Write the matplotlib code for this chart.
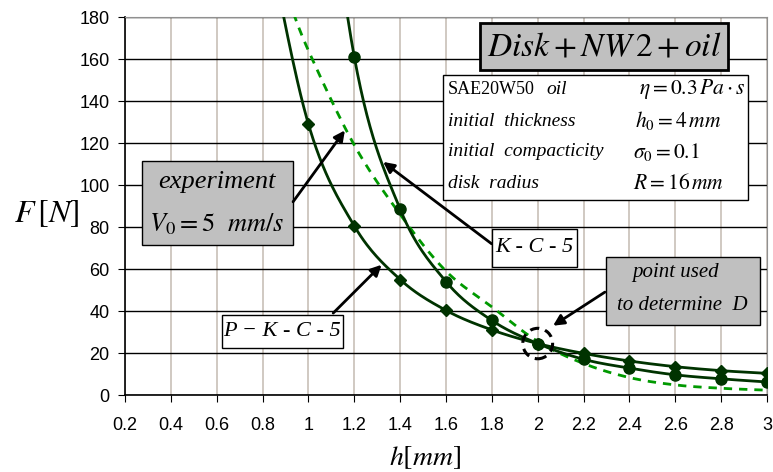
import numpy as np
import matplotlib.pyplot as plt
from matplotlib.patches import Rectangle, Ellipse

plt.rcParams['mathtext.fontset'] = 'stix'

# data
h_kc = [1.0, 1.2, 1.4, 1.6, 1.8, 2.0, 2.2, 2.4, 2.6, 2.8, 3.0]
F_kc = [326, 161, 88.5, 54, 35.5, 24.5, 17.0, 12.8, 9.6, 7.7, 6.2]

h_pkc = [0.8, 1.0, 1.2, 1.4, 1.6, 1.8, 2.0, 2.2, 2.4, 2.6, 2.8, 3.0]
F_pkc = [229, 129, 80.5, 55, 40.3, 31, 24.5, 19.8, 16.2, 13.5, 11.6, 10.3]

h_exp = [0.9, 1.0, 1.2, 1.4, 1.6, 1.8, 2.0, 2.2, 2.4, 2.6, 2.8, 3.0]
F_exp = [192, 164, 119, 86, 59, 42, 25.5, 15, 8.3, 4.8, 3.2, 2.3]

xticks = [0.2, 0.4, 0.6, 0.8, 1, 1.2, 1.4, 1.6, 1.8, 2, 2.2, 2.4, 2.6, 2.8, 3]
xtick_labels = ['0.2', '0.4', '0.6', '0.8', '1', '1.2', '1.4', '1.6', '1.8',
                '2', '2.2', '2.4', '2.6', '2.8', '3']
yticks = list(range(0, 181, 20))


def smooth(x, y, n=30):
    # catmull-rom style smoothing, like the spreadsheet "smoothed line"
    p = np.column_stack([x, y]).astype(float)
    p = np.vstack([2 * p[0] - p[1], p, 2 * p[-1] - p[-2]])
    t = np.linspace(0, 1, n)[:, None]
    out = []
    for i in range(1, len(p) - 2):
        p0, p1, p2, p3 = p[i - 1], p[i], p[i + 1], p[i + 2]
        seg = 0.5 * ((2 * p1) + (-p0 + p2) * t + (2 * p0 - 5 * p1 + 4 * p2 - p3) * t ** 2
                     + (-p0 + 3 * p1 - 3 * p2 + p3) * t ** 3)
        out.append(seg)
    out = np.vstack(out)
    return out[:, 0], out[:, 1]


fig = plt.figure(figsize=(7.73, 4.72), dpi=100)
ax = fig.add_axes([125 / 773, 77 / 472, 642 / 773, 378 / 472])

dark = '#003300'
sx, sy = smooth(h_exp, F_exp)
ax.plot(sx, sy, color='#009900', lw=2, dashes=(3, 2.5), zorder=3)
sx, sy = smooth(h_pkc, F_pkc)
ax.plot(sx, sy, color=dark, lw=2, zorder=4)
ax.plot(h_pkc, F_pkc, 'D', color=dark, ms=6, zorder=5)
sx, sy = smooth(h_kc, F_kc)
ax.plot(sx, sy, color=dark, lw=2, zorder=4)
ax.plot(h_kc, F_kc, 'o', color=dark, ms=8, zorder=5)

ax.set_xlim(0.2, 3.0)
ax.set_ylim(0, 180)
ax.set_xticks(xticks)
ax.set_xticklabels(xtick_labels)
ax.set_yticks(yticks)
for lab in ax.get_xticklabels() + ax.get_yticklabels():
    lab.set_fontfamily('Liberation Sans')
    lab.set_fontsize(13)
ax.tick_params(direction='out', length=5, color='black')
ax.tick_params(axis='x', pad=11)
ax.tick_params(axis='y', pad=6)

ax.grid(axis='x', color='#c8c0b8', lw=1.2, zorder=0)
ax.grid(axis='y', color='black', lw=1, zorder=0)
ax.set_axisbelow(True)
ax.spines['top'].set_color('#909090')
ax.spines['right'].set_color('#909090')
ax.spines['left'].set_linewidth(1.2)
ax.spines['bottom'].set_linewidth(1.2)

fig.text(47 / 773, 1 - 214 / 472, r'$F\,[N]$', fontsize=23, ha='center', va='center')
fig.text(425 / 773, 1 - 457 / 472, r'$h[mm]$', fontsize=20, ha='center', va='center')


def px(x, y):
    return ((x - 125) / 642, (395 - y) / 378)


def box(x0, y0, x1, y1, fc, lw=1.0):
    a = px(x0, y1)
    b = px(x1, y0)
    ax.add_patch(Rectangle(a, b[0] - a[0], b[1] - a[1], transform=ax.transAxes,
                           facecolor=fc, edgecolor='black', lw=lw, zorder=6, clip_on=False))


def txt(x, y, s, size, ha='center', **kw):
    ax.text(*px(x, y), s, transform=ax.transAxes, fontsize=size, ha=ha, va='center',
            zorder=7, **kw)


serif_it = dict(fontfamily='Liberation Serif', style='italic')

# title box
box(480, 23, 728, 70, '#c0c0c0', lw=2)
txt(604, 46, r'$Disk + NW\,2 + oil$', 24)

# parameter box
box(443, 75, 748, 200, 'white')
txt(448, 89, 'SAE20W50', 13, ha='left', fontfamily='Liberation Serif')
txt(546, 89, 'oil', 14, ha='left', **serif_it)
txt(448, 121, 'initial  thickness', 14, ha='left', **serif_it)
txt(448, 152, 'initial  compacticity', 14, ha='left', **serif_it)
txt(448, 183, 'disk  radius', 14, ha='left', **serif_it)
txt(639, 89, r'$\eta = 0.3\,Pa \cdot s$', 15.5, ha='left')
txt(635, 121, r'$h_0 = 4\,mm$', 15.5, ha='left')
txt(633, 152, r'$\sigma_0 = 0.1$', 15.5, ha='left')
txt(633, 183, r'$R = 16\,mm$', 15.5, ha='left')

# experiment box
box(142, 161, 293, 245, '#c0c0c0')
txt(217, 182, 'experiment', 19, **serif_it)
txt(217, 224, r'$V_0 = \mathit{5\ \ mm/s}$', 19)

# curve labels
box(492, 229, 577, 267, 'white')
txt(534, 247, 'K - C - 5', 16, **serif_it)
box(222, 315, 343, 348, 'white')
txt(282, 331, 'P \u2212 K - C - 5', 16, **serif_it)

box(606, 257, 760, 325, '#c0c0c0')
txt(676, 272, 'point used', 15, **serif_it)
txt(682, 306, 'to determine  D', 15, **serif_it)

# arrows (tail, head) in data units
arrows = [((0.933, 92), (1.159, 126)),
          ((1.799, 72), (1.326, 111)),
          ((1.108, 39), (1.319, 62)),
          ((2.293, 49), (2.067, 33))]
for tail, head in arrows:
    ax.annotate('', xy=head, xytext=tail,
                arrowprops=dict(arrowstyle='-|>', color='black', lw=2, mutation_scale=16,
                                shrinkA=0, shrinkB=0),
                zorder=6)

ax.add_patch(Ellipse((2.0, 24.5), 0.13, 14.5, fill=False, edgecolor='black', lw=2.2,
                     linestyle=(0, (3, 2)), zorder=6))

fig.savefig('out.png', dpi=100)
